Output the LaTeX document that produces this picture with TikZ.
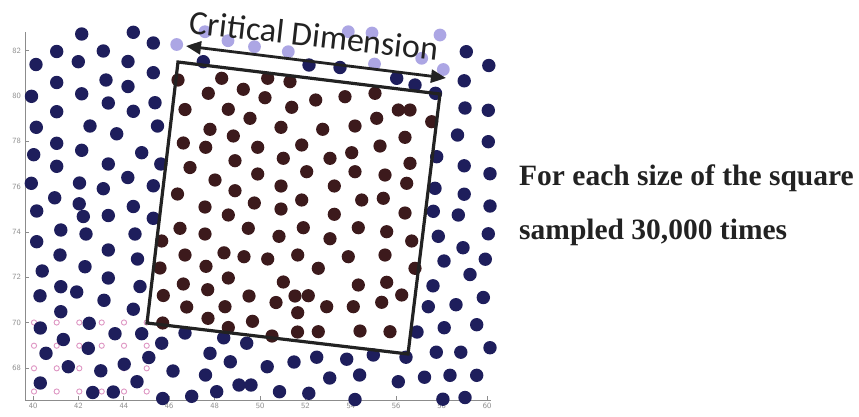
\documentclass[tikz,border=0pt]{standalone}
\usepackage{fontspec}
\setmainfont{Liberation Serif}
\newfontfamily\calfont{Carlito}
\usetikzlibrary{arrows.meta}
\definecolor{navydot}{RGB}{30,30,92}
\definecolor{browndot}{RGB}{60,26,28}
\definecolor{lightdot}{RGB}{172,166,228}
\definecolor{pinkdot}{RGB}{222,150,195}
\definecolor{axisgray}{RGB}{140,140,140}
\definecolor{inkdark}{RGB}{34,34,34}
\tikzset{
  navy/.style={fill=navydot},
  brownd/.style={fill=browndot},
  lightd/.style={fill=lightdot},
  pinkd/.style={draw=pinkdot, line width=0.9pt},
  frame/.style={draw=inkdark, line width=3.2pt, line join=miter},
  cdarrow/.style={draw=inkdark, line width=2.8pt, {Triangle[length=15pt,width=13pt]}-{Triangle[length=15pt,width=13pt]}},
  axisline/.style={draw=axisgray, line width=0.9pt},
  ticklabel/.style={text=axisgray, font=\sffamily\fontsize{8}{9}\selectfont, inner sep=1pt},
  rtext/.style={text=inkdark, font=\bfseries\fontsize{29.5}{32}\selectfont, anchor=base west, inner sep=0pt},
}
\begin{document}
\begin{tikzpicture}[x=1pt,y=-1pt]
\useasboundingbox (0,0) rectangle (859,416);
% axes
\coordinate (ax0) at (25,32);
\coordinate (axo) at (25,400);
\coordinate (ax1) at (491,400);
\draw[axisline] (ax0) -- (axo) -- (ax1);
\foreach \v/\py in {82/50.7,80/96,78/141.3,76/186.7,74/232,72/277.3,70/322.7,68/368}{
  \draw[axisline] (25,\py) -- (29,\py);
  \node[ticklabel, anchor=east] (yl\v) at (22,\py) {\v};
}
\foreach \v/\px in {40/33,42/78.4,44/123.8,46/169.2,48/214.6,50/260,52/305.4,54/350.8,56/396.2,58/441.6,60/487}{
  \draw[axisline] (\px,400) -- (\px,396);
  \node[ticklabel, anchor=north] (xl\v) at (\px,402) {\v};
}
% pink open markers
\foreach \px in {34,56.7,79.3,101.7,124,146.7}{
  \foreach \py in {322.5,345.7,368.3,391.5}{
    \draw[pinkd] (\px,\py) circle[radius=2.6pt];
  }
}
% navy dots
\foreach \px/\py in {81.7/34,133.3/32.3,153.3/43,56.7/51.5,103.3/51,36/64.5,78.3/61.7,128/61.5,153.3/72.7,56.7/82.5,106/80,128/86.5,31.5/96.3,81.7/93.8,108.3/103,133.3/111.3,155/102.7,56.7/111.7,36.3/127.3,90/126,116.7/133.8,157.5/126,56.7/143.3,81.7/150.3,33.7/154.7,141.7/152.7,56.7/166.3,108.3/164,160.8/164,31.3/183.3,79.5/183,127.8/177.5,153.3/185.8,103.3/188.7,54.7/197.8,79.2/203.8,133.3/206.5,36.7/211,83.3/216.5,108.3/215.5,153.3/218.3,
60.8/230,86/234,135/234,36.7/241.7,108.3/250,60/255,137.5/259,85/266.7,42.2/271,108.3/278,60.8/286.7,76.7/292,140/286.5,40/295.8,104/300.3,133.3/309.2,60.8/311.7,40.3/328,89.2/323.3,115/333.7,141.7/333.7,63.3/339.5,88.3/348.3,46/353.3,148.8/357.5,68.3/366.7,124.2/364.2,100.8/370.8,173/371,40.3/383,137/381.7,92.7/392.5,113.3/392,162.7/398.5,161.7/343.2,
185/333,223.7/337.8,246.7/343.2,210/353.3,230.3/361.8,267.2/366.7,294/362,316.7/357.2,205.5/375,191.7/396.3,216.7/391.7,239/385,251/385,279.5/391.7,308.8/393.3,329.7/378,
346.7/359.2,373.3/355,406/357.2,436.3/352.2,460.8/352.2,490/347.7,359.6/375,398.3/381.7,424.5/377.2,450/375.3,476.7/375.3,355/399.5,442.9/399.2,465/397.5,
433.3/211.3,458.3/215,490/206,438.3/236.3,463/247.7,488.3/233.8,444/261,485.3/259.2,470/274.5,433/285.8,428.3/306.7,456/304.7,483.3/297.5,417/332,444.2/327.7,476.7/324.7,
466.3/51.7,488.8/65.5,464.2/80.8,465/108,488.3/110.3,457.5/135,488.3/141.7,436.7/156.7,464.2/165.8,490/173.7,435/188.3,464.2/194.2,
203.3/61.7,309/65,340/67.5,396.7/78.3,415/85,435.5/93.3}{
  \fill[navy] (\px,\py) circle[radius=6.7pt];
}
% light purple dots
\foreach \px/\py in {176.7/44.5,205/31.7,228/40.7,254.5/46.7,288.3/51.7,348.3/31.7,372/33,440/35,374.5/64,421.7/58.3,443.3/69.5}{
  \fill[lightd] (\px,\py) circle[radius=6.4pt];
}
% brown dots
\foreach \px/\py in {178/80,221.7/78.3,267.7/78.3,290/81.7,208.3/93.3,243.3/89.3,265/97.7,291.7/107.3,315.7/100,185/109.5,228.3/109.3,250/118.3,210/129.3,233.3/136,281/127.3,322.7/129.3,183.3/143,205.7/147.3,257.7/147.3,301.7/145,190/167.5,235/160.7,283.3/158.3,330/158.3,215/180,257.7/174,306.7/171.7,177.5/194,235/190.7,281/186,334.3/186,205/207,254.3/203,301.7/200,228.3/215,281/209,
345/96.7,375/93.3,398.3/110,410/110,355/126,376.7/118.3,431.7/121.7,405/137.3,380/146,351.7/152.7,410/163.3,355/171.7,385/175,406.7/183.3,361.7/200,383.3/198.3,405/213,
334.3/214.3,180/228.3,205/234,248.3/228.3,279/236.3,303.3/227.7,330/238.7,161.7/241,185/255,224/252.8,244/256.7,267.7/259,297.7/255,160/268,206/266.3,228.3/278,318.3/268.3,183.3/284,207.7/289.7,249/296,283.3/282,295/296,308.3/295.7,163.3/295.5,186.7/307,225/306.7,276/302.5,326.7/306.7,208/318.3,252.5/321.3,297.7/312.7,162.7/323,228.3/327.5,297.5/332,318.3/331.7,272/336,
358.3/227.7,386.7/231.7,411.7/241,348.3/256.7,385/255,415/268.3,358.3/285,386.7/282.3,401.7/295,353.3/306.7,381.7/302.3,360/331,390/331.7}{
  \fill[brownd] (\px,\py) circle[radius=6.6pt];
}
% square frame
\coordinate (sqA) at (178,62);
\coordinate (sqB) at (440,94);
\coordinate (sqC) at (408,354);
\coordinate (sqD) at (147,323);
\draw[frame] (sqA) -- (sqB) -- (sqC) -- (sqD) -- cycle;
% critical dimension arrow
\coordinate (cdL) at (186,46);
\coordinate (cdR) at (446,78);
\draw[cdarrow] (cdL) -- (cdR);
\node[text=inkdark, font=\calfont\fontsize{34}{36}\selectfont, anchor=base, rotate=-6.4, inner sep=0pt] (cdlabel) at (313,47) {Critical Dimension};
% right text
\node[rtext] (line1) at (519,185) {For each size of the square};
\node[rtext] (line2) at (519,239) {sampled 30,000 times};
\end{tikzpicture}
\end{document}
